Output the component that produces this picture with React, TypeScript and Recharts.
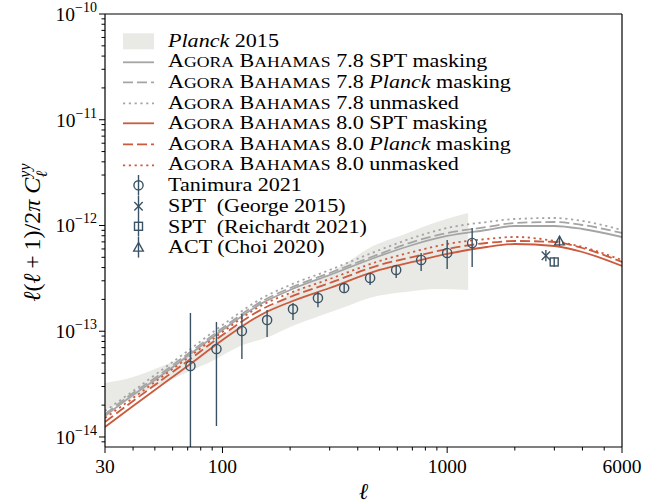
import React from 'react'
import {
  ComposedChart,
  Area,
  Line,
  Scatter,
  ErrorBar,
  XAxis,
  YAxis,
  Legend,
  ReferenceLine,
} from 'recharts'

const FONT = '"Liberation Serif", "Times New Roman", serif'
const RED = '#cc5a3d'
const GREY = '#a5a5a5'
const BAND = '#e9e9e5'
const INK = '#3a5263'

// tSZ power spectra, l(l+1)/2pi C_l^yy
const modelEll = [30, 40, 50, 70, 100, 150, 200, 300, 500, 700, 1000, 1500, 2000, 3000, 4000, 6000]
const agora80Spt = [1.243e-14, 1.963e-14, 2.781e-14, 4.692e-14, 8.26e-14, 1.45e-13, 1.891e-13, 2.564e-13, 3.795e-13, 4.516e-13, 5.376e-13, 6.261e-13, 6.685e-13, 6.399e-13, 5.615e-13, 4.14e-13]
const agora80Planck = [1.386e-14, 2.189e-14, 3.101e-14, 5.232e-14, 9.21e-14, 1.617e-13, 2.108e-13, 2.859e-13, 4.231e-13, 5.035e-13, 5.994e-13, 6.831e-13, 7.133e-13, 6.981e-13, 6.126e-13, 4.517e-13]
const agora80Unmasked = [1.512e-14, 2.336e-14, 3.309e-14, 5.583e-14, 9.83e-14, 1.763e-13, 2.3e-13, 3.118e-13, 4.615e-13, 5.613e-13, 6.682e-13, 7.451e-13, 7.788e-13, 7.135e-13, 6.261e-13, 4.715e-13]
const agora78Spt = [1.58e-14, 2.495e-14, 3.457e-14, 5.832e-14, 1.027e-13, 1.843e-13, 2.455e-13, 3.402e-13, 5.146e-13, 6.539e-13, 7.956e-13, 9.066e-13, 9.894e-13, 9.886e-13, 9.265e-13, 7.783e-13]
const agora78Planck = [1.649e-14, 2.605e-14, 3.61e-14, 6.09e-14, 1.072e-13, 1.924e-13, 2.564e-13, 3.554e-13, 5.378e-13, 6.977e-13, 8.494e-13, 9.673e-13, 1.056e-12, 1.079e-12, 1.011e-12, 8.495e-13]
const agora78Unmasked = [1.761e-14, 2.721e-14, 3.854e-14, 6.503e-14, 1.145e-13, 2.055e-13, 2.738e-13, 3.795e-13, 5.863e-13, 7.614e-13, 9.473e-13, 1.079e-12, 1.152e-12, 1.177e-12, 1.103e-12, 9.067e-13]

// Planck 2015 band
const planckEll = [30, 40, 50, 70, 90, 120, 160, 200, 270, 350, 450, 650, 900, 1240]
const planckLo = [1.8e-14, 2.34e-14, 2.97e-14, 4.12e-14, 5.23e-14, 7.25e-14, 8.82e-14, 1.097e-13, 1.394e-13, 1.695e-13, 2.062e-13, 2.35e-13, 2.51e-13, 2.455e-13]
const planckHi = [3.24e-14, 3.69e-14, 4.4e-14, 5.96e-14, 8.26e-14, 1.146e-13, 1.623e-13, 2.3e-13, 3.12e-13, 4.32e-13, 6.12e-13, 8.31e-13, 1.079e-12, 1.313e-12]

// Tanimura 2021 band powers with 1-sigma bounds
const tanimuraEll = [72, 94, 122, 158, 206, 266, 348, 454, 593, 766, 1000, 1292]
const tanimuraVal = [4.69e-14, 6.79e-14, 1.005e-13, 1.276e-13, 1.62e-13, 2.06e-13, 2.56e-13, 3.19e-13, 3.8e-13, 4.72e-13, 5.5e-13, 6.84e-13]
const tanimuraLo = [8.04e-15, 1.27e-14, 5.47e-14, 8.83e-14, 1.28e-13, 1.69e-13, 2.3e-13, 2.74e-13, 3.19e-13, 3.72e-13, 3.88e-13, 4.05e-13]
const tanimuraHi = [1.49e-13, 1.224e-13, 1.456e-13, 1.59e-13, 1.85e-13, 2.35e-13, 2.86e-13, 3.56e-13, 4.23e-13, 5.5e-13, 7.3e-13, 9.46e-13]

// single high-l measurements: [ell, value, lower, upper]
const sptGeorge = [2750, 5.18e-13, 4.6e-13, 5.85e-13]
const sptReichardt = [2995, 4.52e-13, 4.07e-13, 5.0e-13]
const actChoi = [3162, 7.13e-13, 6.4e-13, 7.95e-13]

const xTicks = [30, 100, 1000, 6000]
const xMinor = [40, 50, 60, 70, 80, 90, 200, 300, 400, 500, 600, 700, 800, 900, 2000, 3000, 4000, 5000]
const yMajor = [1e-14, 1e-13, 1e-12, 1e-11, 1e-10]
const yExponents = ['−14', '−13', '−12', '−11', '−10']
const yDomain = [8.04e-15, 1e-10]

const yMinor: number[] = []
for (const m of [1e-15, ...yMajor.slice(0, 4)]) {
  for (let k = 2; k <= 9; k++) {
    const v = k * m
    if (v >= yDomain[0]) yMinor.push(v)
  }
}

const curve = (vals: number[]) => modelEll.map((l, i) => ({ l, v: vals[i] }))
const bandRows = planckEll.map((l, i) => ({ l, band: [planckLo[i], planckHi[i]] }))
const tanimuraRows = tanimuraEll.map((l, i) => ({
  l,
  v: tanimuraVal[i],
  err: [tanimuraVal[i] - tanimuraLo[i], tanimuraHi[i] - tanimuraVal[i]],
}))
const pointRow = (p: number[]) => [{ l: p[0], v: p[1], err: [p[1] - p[2], p[3] - p[1]] }]

const DASH = '10 4'
const DOT = '2.2 3.6'

function XTick(props: any) {
  const { x, y, payload } = props
  const major = xTicks.includes(payload.value)
  return (
    <g>
      <line x1={x} x2={x} y1={y} y2={y + (major ? 6 : 3.5)} stroke="#000" strokeWidth={1} />
      {major && (
        <text x={x} y={y + 12} dy="0.72em" textAnchor="middle" fontFamily={FONT} fontSize={19.5} fill="#000">
          {payload.value}
        </text>
      )}
    </g>
  )
}

function YTick(props: any) {
  const { x, y, payload } = props
  const idx = yMajor.indexOf(payload.value)
  const major = idx >= 0
  return (
    <g>
      <line x1={x} x2={x - (major ? 6 : 3.5)} y1={y} y2={y} stroke="#000" strokeWidth={1} />
      {major && (
        <text x={x - 8} y={y} textAnchor="end" fontFamily={FONT} fontSize={19.5} fill="#000">
          <tspan dy="0.35em">10</tspan>
          <tspan dy={-9} fontSize={14}>
            {yExponents[idx]}
          </tspan>
        </text>
      )}
    </g>
  )
}

function YLabel(props: any) {
  const vb = props.viewBox || { x: 0, y: 14, width: 105, height: 433 }
  const cx = 32
  const cy = vb.y + vb.height / 2 + 2
  return (
    <text
      transform={`translate(${cx},${cy}) rotate(-90)`}
      textAnchor="middle"
      fontFamily={FONT}
      fontSize={24}
      fill="#000"
      dy="0.35em"
    >
      <tspan fontStyle="italic">ℓ</tspan>(<tspan fontStyle="italic">ℓ</tspan>
      {'\u2009+\u20091)/2'}
      <tspan fontStyle="italic">π</tspan>
      {' '}
      <tspan fontStyle="italic">C</tspan>
      <tspan fontSize={16} fontStyle="italic" dy={-10}>
        yy
      </tspan>
      <tspan fontSize={16} fontStyle="italic" dx={-14} dy={17}>
        ℓ
      </tspan>
    </text>
  )
}

function Circle(p: any) {
  return <circle cx={p.cx} cy={p.cy} r={4.6} fill="none" stroke={INK} strokeWidth={1.4} />
}
function Cross(p: any) {
  const s = 4.2
  return (
    <g stroke={INK} strokeWidth={1.4}>
      <line x1={p.cx - s} y1={p.cy - s} x2={p.cx + s} y2={p.cy + s} />
      <line x1={p.cx - s} y1={p.cy + s} x2={p.cx + s} y2={p.cy - s} />
    </g>
  )
}
function Square(p: any) {
  return <rect x={p.cx - 4} y={p.cy - 4} width={8} height={8} fill="none" stroke={INK} strokeWidth={1.4} />
}
function Triangle(p: any) {
  const s = 4.8
  return (
    <polygon
      points={`${p.cx},${p.cy - s} ${p.cx - s},${p.cy + s * 0.8} ${p.cx + s},${p.cy + s * 0.8}`}
      fill="none"
      stroke={INK}
      strokeWidth={1.4}
    />
  )
}

// small caps drawn by hand so the lower letters sit a bit larger than the synthesized ones
const small = { fontSize: '0.8em' }
const Agora = () => (
  <>
    A<span style={small}>GORA</span> B<span style={small}>AHAMAS</span>
  </>
)

const legendItems: { handle: string; color?: string; dash?: string; marker?: any; label: React.ReactNode }[] = [
  { handle: 'band', label: <><i>Planck</i> 2015</> },
  { handle: 'line', color: GREY, label: <><Agora /> 7.8 SPT masking</> },
  { handle: 'line', color: GREY, dash: DASH, label: <><Agora /> 7.8 <i>Planck</i> masking</> },
  { handle: 'line', color: GREY, dash: DOT, label: <><Agora /> 7.8 unmasked</> },
  { handle: 'line', color: RED, label: <><Agora /> 8.0 SPT masking</> },
  { handle: 'line', color: RED, dash: DASH, label: <><Agora /> 8.0 <i>Planck</i> masking</> },
  { handle: 'line', color: RED, dash: DOT, label: <><Agora /> 8.0 unmasked</> },
  { handle: 'point', marker: Circle, label: 'Tanimura 2021' },
  { handle: 'point', marker: Cross, label: 'SPT  (George 2015)' },
  { handle: 'point', marker: Square, label: 'SPT  (Reichardt 2021)' },
  { handle: 'point', marker: Triangle, label: 'ACT (Choi 2020)' },
]

function LegendBox() {
  const h = 20.6
  return (
    <div style={{ fontFamily: FONT, fontSize: 18.4, color: '#000' }}>
      {legendItems.map((it, i) => (
        <div key={i} style={{ display: 'flex', alignItems: 'center', height: h }}>
          <svg width={50} height={h} style={{ flex: 'none' }}>
            {it.handle === 'band' && <rect x={5} y={h / 2 - 8} width={31} height={16} fill={BAND} />}
            {it.handle === 'line' && (
              <line x1={5} x2={36} y1={h / 2} y2={h / 2} stroke={it.color} strokeWidth={1.8} strokeDasharray={it.dash} />
            )}
            {it.handle === 'point' && (
              <>
                <line x1={20.5} x2={20.5} y1={0} y2={h} stroke={INK} strokeWidth={1.4} />
                <it.marker cx={20.5} cy={h / 2} />
              </>
            )}
          </svg>
          <div
            style={{
              whiteSpace: 'pre',
              lineHeight: '20px',
              transform: 'scaleX(1.2)',
              transformOrigin: 'left center',
            }}
          >
            {it.label}
          </div>
        </div>
      ))}
    </div>
  )
}

export default function App() {
  return (
    <div style={{ width: 664, height: 504 }}>
      <style>{'body{margin:0}'}</style>
      <ComposedChart width={664} height={504} margin={{ top: 14, right: 42, bottom: 0, left: 0 }}>
        <XAxis
          dataKey="l"
          type="number"
          scale="log"
          domain={[30, 6000]}
          allowDataOverflow
          ticks={[...xTicks, ...xMinor]}
          interval={0}
          tick={(p: any) => <XTick {...p} />}
          tickLine={false}
          tickSize={0}
          tickMargin={0}
          height={57}
          axisLine={{ stroke: '#000', strokeWidth: 1.2 }}
          label={{ value: 'ℓ', position: 'insideBottom', offset: 5, fontFamily: FONT, fontSize: 23, fontStyle: 'italic', fill: '#000' }}
        />
        <YAxis
          type="number"
          scale="log"
          domain={yDomain}
          allowDataOverflow
          ticks={[...yMajor, ...yMinor]}
          interval={0}
          tick={(p: any) => <YTick {...p} />}
          tickLine={false}
          tickSize={0}
          tickMargin={0}
          width={105}
          axisLine={{ stroke: '#000', strokeWidth: 1.2 }}
          label={<YLabel />}
        />
        <Area
          data={bandRows}
          dataKey="band"
          type="monotone"
          stroke="none"
          fill={BAND}
          fillOpacity={1}
          isAnimationActive={false}
          name="Planck 2015"
        />
        <Line data={curve(agora78Spt)} dataKey="v" type="monotone" stroke={GREY} strokeWidth={1.8} dot={false} isAnimationActive={false} name="7.8 SPT" />
        <Line data={curve(agora78Planck)} dataKey="v" type="monotone" stroke={GREY} strokeWidth={1.8} strokeDasharray={DASH} dot={false} isAnimationActive={false} name="7.8 Planck" />
        <Line data={curve(agora78Unmasked)} dataKey="v" type="monotone" stroke={GREY} strokeWidth={1.8} strokeDasharray={DOT} dot={false} isAnimationActive={false} name="7.8 unmasked" />
        <Line data={curve(agora80Spt)} dataKey="v" type="monotone" stroke={RED} strokeWidth={1.8} dot={false} isAnimationActive={false} name="8.0 SPT" />
        <Line data={curve(agora80Planck)} dataKey="v" type="monotone" stroke={RED} strokeWidth={1.8} strokeDasharray={DASH} dot={false} isAnimationActive={false} name="8.0 Planck" />
        <Line data={curve(agora80Unmasked)} dataKey="v" type="monotone" stroke={RED} strokeWidth={1.8} strokeDasharray={DOT} dot={false} isAnimationActive={false} name="8.0 unmasked" />
        <Scatter data={tanimuraRows} dataKey="v" shape={Circle} isAnimationActive={false} name="Tanimura 2021">
          <ErrorBar dataKey="err" direction="y" width={0} stroke={INK} strokeWidth={1.4} />
        </Scatter>
        <Scatter data={pointRow(sptGeorge)} dataKey="v" shape={Cross} isAnimationActive={false} name="SPT George">
          <ErrorBar dataKey="err" direction="y" width={0} stroke={INK} strokeWidth={1.4} />
        </Scatter>
        <Scatter data={pointRow(sptReichardt)} dataKey="v" shape={Square} isAnimationActive={false} name="SPT Reichardt">
          <ErrorBar dataKey="err" direction="y" width={0} stroke={INK} strokeWidth={1.4} />
        </Scatter>
        <Scatter data={pointRow(actChoi)} dataKey="v" shape={Triangle} isAnimationActive={false} name="ACT Choi">
          <ErrorBar dataKey="err" direction="y" width={0} stroke={INK} strokeWidth={1.4} />
        </Scatter>
        <ReferenceLine x={6000} stroke="#000" strokeWidth={1.2} />
        <ReferenceLine y={1e-10} stroke="#000" strokeWidth={1.2} />
        <Legend
          layout="vertical"
          align="center"
          verticalAlign="middle"
          wrapperStyle={{ top: 31, left: 118, width: 460 }}
          content={() => <LegendBox />}
        />
      </ComposedChart>
    </div>
  )
}
